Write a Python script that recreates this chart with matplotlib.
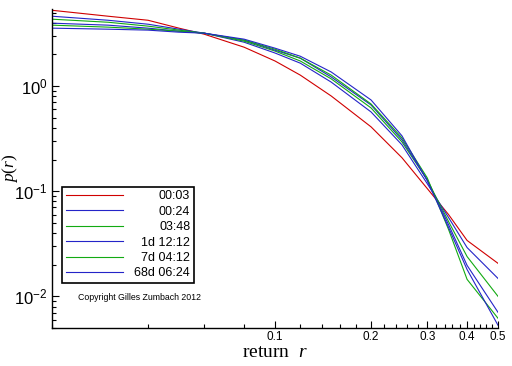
import numpy as np
import matplotlib
matplotlib.use("Agg")
import matplotlib.pyplot as plt
from matplotlib.ticker import FixedLocator, FixedFormatter, LogLocator, NullFormatter

# return values where the densities were read
r = [0.02, 0.03, 0.04, 0.05, 0.06, 0.08, 0.10, 0.12, 0.15, 0.20, 0.25, 0.30, 0.35, 0.40, 0.50]

p_0003 = [5.25, 4.61, 4.22, 3.55, 3.11, 2.34, 1.73, 1.27, 0.804, 0.409, 0.208, 0.106, 0.0599, 0.0340, 0.0206]
p_0024 = [4.61, 4.22, 3.87, 3.47, 3.18, 2.61, 2.06, 1.65, 1.09, 0.567, 0.276, 0.118, 0.0561, 0.0291, 0.0148]
p_0348 = [4.32, 4.04, 3.71, 3.40, 3.18, 2.67, 2.15, 1.73, 1.17, 0.619, 0.294, 0.128, 0.0514, 0.0239, 0.0100]
p_1d = [3.96, 3.79, 3.55, 3.32, 3.18, 2.73, 2.19, 1.84, 1.22, 0.660, 0.308, 0.128, 0.0481, 0.0197, 0.00705]
p_7d = [3.79, 3.63, 3.47, 3.32, 3.18, 2.73, 2.24, 1.84, 1.27, 0.675, 0.321, 0.134, 0.0432, 0.0145, 0.00619]
p_68d = [3.55, 3.47, 3.40, 3.25, 3.18, 2.79, 2.29, 1.92, 1.36, 0.737, 0.336, 0.126, 0.0451, 0.0180, 0.00531]

labels = ['00:03', '00:24', '03:48', '1d 12:12', '7d 04:12', '68d 06:24']
colors = ['#d00000', '#2424c8', '#12aa12', '#2424c8', '#12aa12', '#2424c8']

xticks = [0.1, 0.2, 0.3, 0.4, 0.5]
xtick_labels = ['0.1', '0.2', '0.3', '0.4', '0.5']
yticks = [0.01, 0.1, 1.0]
ytick_labels = [r'$\mathdefault{10^{-2}}$', r'$\mathdefault{10^{-1}}$', r'$\mathdefault{10^{0}}$']

plt.rcParams['font.family'] = 'Liberation Sans'
plt.rcParams['mathtext.fontset'] = 'custom'
plt.rcParams['mathtext.rm'] = 'Liberation Serif'
plt.rcParams['mathtext.it'] = 'Liberation Serif:italic'

fig = plt.figure(figsize=(5.12, 3.66), dpi=100)
ax = fig.add_axes([52 / 512, 1 - 328 / 366, 446 / 512, 319 / 366])

series = [p_0003, p_0024, p_0348, p_1d, p_7d, p_68d]
for p, lab, c in zip(series, labels, colors):
    ax.plot(r, p, color=c, lw=0.8, label=lab)

ax.set_xscale('log')
ax.set_yscale('log')
ax.set_xlim(0.02, 0.5)
ax.set_ylim(0.005, 5.4)
for s in ['top', 'right']:
    ax.spines[s].set_visible(False)
for s in ['left', 'bottom']:
    ax.spines[s].set_linewidth(1.0)

ax.xaxis.set_major_locator(FixedLocator(xticks))
ax.xaxis.set_major_formatter(FixedFormatter(xtick_labels))
ax.xaxis.set_minor_locator(FixedLocator(np.arange(2, 51, 2) / 100))
ax.xaxis.set_minor_formatter(NullFormatter())
ax.yaxis.set_major_locator(FixedLocator(yticks))
ax.yaxis.set_major_formatter(FixedFormatter(ytick_labels))
ax.yaxis.set_minor_locator(LogLocator(base=10, subs=np.arange(2, 10)))
ax.yaxis.set_minor_formatter(NullFormatter())

ax.tick_params(which='both', direction='in', width=0.8, color='black')
ax.tick_params(which='major', length=5)
ax.tick_params(which='minor', length=3)
ax.tick_params(axis='x', labelsize=8.5, pad=2)
ax.tick_params(axis='y', labelsize=12, pad=3)

ax.set_xlabel(r'return  $r$', family='Liberation Serif', fontsize=14, labelpad=1)
ax.set_ylabel(r'$p(r)$', fontsize=12.5)
ax.yaxis.set_label_coords(-0.072, 0.5)

leg = ax.legend(loc='lower left', bbox_to_anchor=(0.0224, 0.141), borderaxespad=0,
                frameon=True, fancybox=False, edgecolor='black', framealpha=1,
                fontsize=9, handlelength=4.6, handletextpad=0.9,
                labelspacing=0.27, borderpad=0.3)
leg.get_frame().set_linewidth(1.2)

# right-align the legend labels
fig.canvas.draw()
widths = [t.get_window_extent().width for t in leg.get_texts()]
wmax = max(widths)
for t, w in zip(leg.get_texts(), widths):
    t.set_position((wmax - w, 0))

ax.text(0.058, 0.097, 'Copyright Gilles Zumbach 2012', transform=ax.transAxes,
        fontsize=6.3, va='center', ha='left')

fig.savefig('out.png', dpi=100)
